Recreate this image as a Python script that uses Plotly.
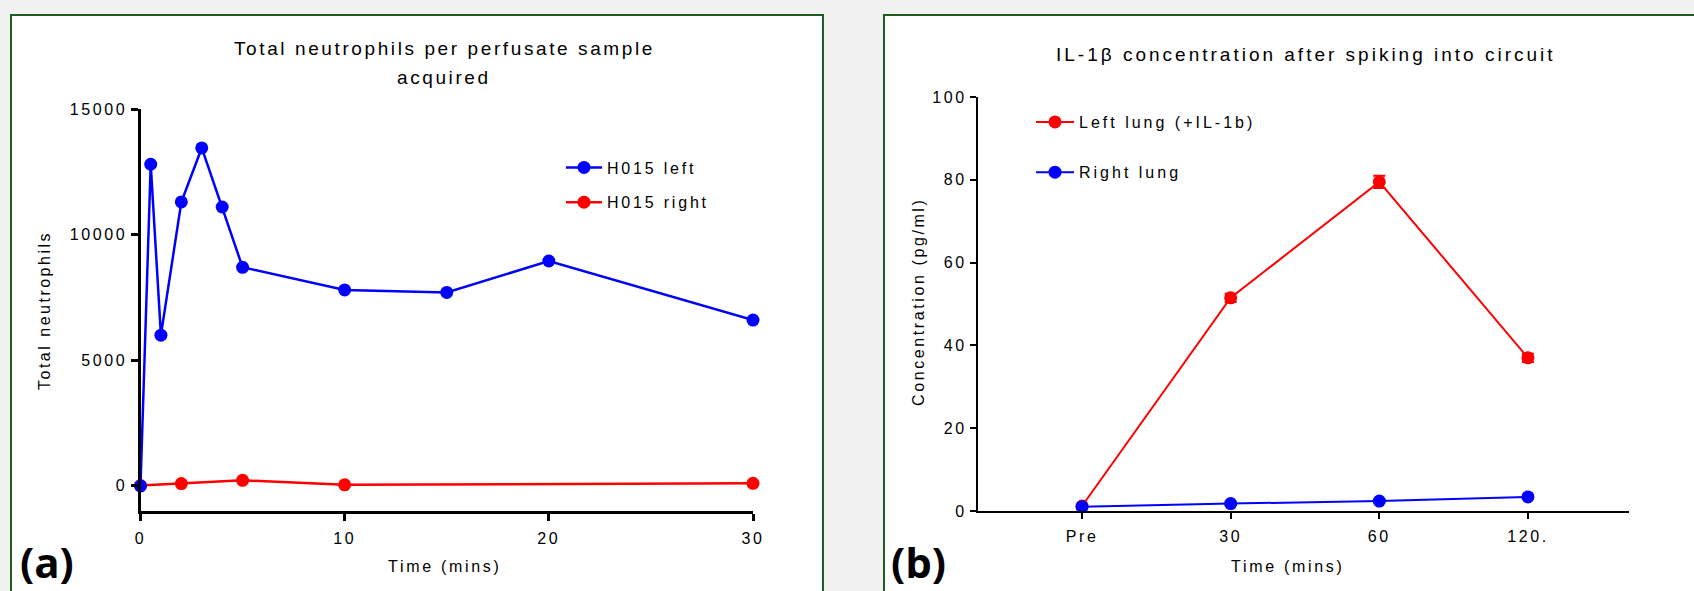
import plotly.graph_objects as go

W, H = 1694, 591

# ---- Data: panel (a) ----
a_left_time = [0, 0.5, 1, 2, 3, 4, 5, 10, 15, 20, 30]
a_left_vals = [0, 12800, 6000, 11300, 13450, 11100, 8700, 7800, 7700, 8950, 6600]
a_right_time = [0, 2, 5, 10, 30]
a_right_vals = [10, 90, 220, 40, 100]
a_xticks = [0, 10, 20, 30]
a_xlabels = ["0", "10", "20", "30"]
a_yticks = [0, 5000, 10000, 15000]
a_ylabels = ["0", "5000", "10000", "15000"]

# ---- Data: panel (b) ----
b_cats = ["Pre", "30", "60", "120."]
b_left_vals = [1.2, 51.5, 79.5, 37.0]
b_left_err = [0.3, 1.0, 1.5, 1.0]
b_right_vals = [1.0, 1.8, 2.4, 3.4]
b_right_err = [0.2, 0.3, 0.3, 0.4]
b_yticks = [0, 20, 40, 60, 80, 100]
b_ylabels = ["0", "20", "40", "60", "80", "100"]

FONT = "Liberation Sans"
BLUE = "#0000ff"
RED = "#ff0000"
GREEN = "#1f5c1f"
BG = "#f1f1f1"


def sp(s, ls=2.6):
    return f'<span style="letter-spacing:{ls}px">{s}</span>'


def px(x):
    return x / W


def py(y):
    return 1 - y / H


fig = go.Figure()

# panel (a) traces: red drawn first so blue sits on top
fig.add_trace(go.Scatter(
    x=a_right_time, y=a_right_vals, mode="lines+markers", name=sp("H015 right", 2.8),
    line=dict(color=RED, width=2.5), marker=dict(color=RED, size=13),
    xaxis="x", yaxis="y", legend="legend", legendgroup="ar", legendrank=2,
    cliponaxis=False))
fig.add_trace(go.Scatter(
    x=a_left_time, y=a_left_vals, mode="lines+markers", name=sp("H015 left", 2.8),
    line=dict(color=BLUE, width=2.5), marker=dict(color=BLUE, size=13),
    xaxis="x", yaxis="y", legend="legend", legendgroup="al", legendrank=1,
    cliponaxis=False))

# panel (b) traces
fig.add_trace(go.Scatter(
    x=b_cats, y=b_left_vals, mode="lines+markers", name=sp("Left lung (+IL-1b)", 3.0),
    line=dict(color=RED, width=2), marker=dict(color=RED, size=13),
    error_y=dict(type="data", array=b_left_err, color=RED, thickness=2, width=6),
    xaxis="x2", yaxis="y2", legend="legend2", legendgroup="bl",
    cliponaxis=False))
fig.add_trace(go.Scatter(
    x=b_cats, y=b_right_vals, mode="lines+markers", name=sp("Right lung", 3.0),
    line=dict(color=BLUE, width=2), marker=dict(color=BLUE, size=13),
    error_y=dict(type="data", array=b_right_err, color=BLUE, thickness=2, width=6),
    xaxis="x2", yaxis="y2", legend="legend2", legendgroup="br",
    cliponaxis=False))

axis_common = dict(showgrid=False, zeroline=False, showline=True, linecolor="black",
                   ticks="outside", tickcolor="black", automargin=False,
                   tickfont=dict(family=FONT, size=16, color="black"))

fig.update_layout(
    width=W, height=H, autosize=False,
    margin=dict(l=0, r=0, t=0, b=0, pad=0),
    paper_bgcolor=BG,
    plot_bgcolor="rgba(0,0,0,0)",
    font=dict(family=FONT, color="black"),
    xaxis=dict(domain=[px(140.5), px(753)], range=[0, 30], tickvals=a_xticks,
               ticktext=[sp(t) for t in a_xlabels], ticklabelstandoff=4,
               anchor="y", linewidth=3, tickwidth=3, ticklen=7, **axis_common),
    yaxis=dict(domain=[py(511), py(109)], range=[-1000, 15000], tickvals=a_yticks,
               ticktext=[sp(t) for t in a_ylabels],
               anchor="x", linewidth=3, tickwidth=3, ticklen=7, **axis_common),
    xaxis2=dict(domain=[px(978), px(1629)], type="category", range=[-0.7, 3.68],
                tickvals=b_cats, ticktext=[sp(t) for t in b_cats], ticklabelstandoff=4,
                anchor="y2", linewidth=2, tickwidth=2, ticklen=6, **axis_common),
    yaxis2=dict(domain=[py(511), py(97)], range=[0, 100], tickvals=b_yticks,
                ticktext=[sp(t) for t in b_ylabels],
                anchor="x2", linewidth=2, tickwidth=2, ticklen=6, **axis_common),
    legend=dict(x=px(561), y=py(150.5), xanchor="left", yanchor="top",
                font=dict(family=FONT, size=16, color="black"),
                bgcolor="rgba(0,0,0,0)", traceorder="grouped",
                tracegroupgap=11, itemwidth=36),
    legend2=dict(x=px(1031), y=py(105), xanchor="left", yanchor="top",
                 font=dict(family=FONT, size=16, color="black"),
                 bgcolor="rgba(0,0,0,0)", traceorder="grouped",
                 tracegroupgap=26.5, itemwidth=38),
    shapes=[
        dict(type="rect", xref="paper", yref="paper", x0=px(11), x1=px(823),
             y0=-0.05, y1=py(15), line=dict(color=GREEN, width=2),
             fillcolor="white", layer="below"),
        dict(type="rect", xref="paper", yref="paper", x0=px(884), x1=1.05,
             y0=-0.05, y1=py(15), line=dict(color=GREEN, width=2),
             fillcolor="white", layer="below"),
    ],
)

ann = []
def text(x, y, s, size=16, angle=0, bold=False, family=FONT, xanchor="center", ls=2.6):
    ann.append(dict(x=px(x), y=py(y), xref="paper", yref="paper",
                    text=sp(s, ls) if ls else s,
                    showarrow=False, textangle=angle, xanchor=xanchor, yanchor="middle",
                    font=dict(family=family, size=size, color="black",
                              weight="bold" if bold else "normal")))

text(444, 49, "Total neutrophils per perfusate sample", size=19, ls=2.6)
text(444, 78, "acquired", size=19, ls=2.6)
text(445, 566, "Time (mins)", size=16, ls=2.7)
text(45, 311, "Total neutrophils", size=16, angle=-90, ls=2.5)
text(18, 561, "(a)", size=42, bold=True, family="Open Sans", xanchor="left", ls=0)

text(1306, 54, "IL-1β concentration after spiking into circuit", size=19, ls=3.0)
text(1288, 566, "Time (mins)", size=16, ls=2.7)
text(918, 302, "Concentration (pg/ml)", size=16, angle=-90, ls=2.6)
text(889, 561, "(b)", size=42, bold=True, family="Open Sans", xanchor="left", ls=0)

fig.update_layout(annotations=ann)

post = (
    "document.documentElement.style.margin='0px';"
    "document.documentElement.style.overflow='hidden';"
    f"document.documentElement.style.background='{BG}';"
    "document.body.style.margin='0px';document.body.style.padding='0px';"
    "document.body.style.overflow='hidden';"
    f"document.body.style.background='{BG}';"
    "var gd=document.getElementById('{plot_id}');"
    "gd.style.position='fixed';gd.style.left='0px';gd.style.top='0px';"
)

fig.write_html("out.html", config={"displayModeBar": False}, post_script=post)
